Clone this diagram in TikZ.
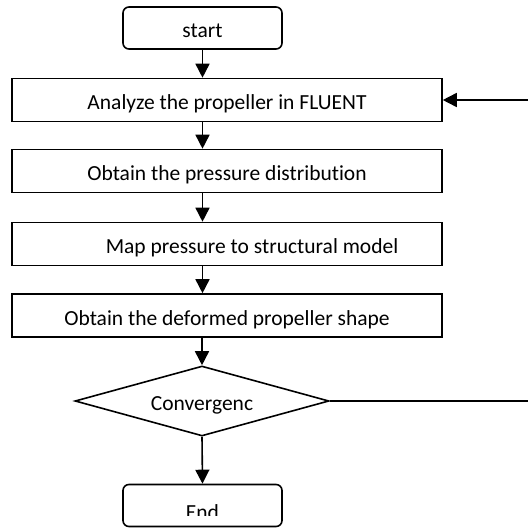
\documentclass[tikz,border=0pt]{standalone}
\usepackage{fontspec}
\setmainfont[Ligatures=NoCommon]{Carlito}
\usetikzlibrary{arrows.meta,positioning,calc,shapes.geometric}
\tikzset{
 block/.style={draw, line width=1.6pt, minimum width=430pt, minimum height=43pt, inner sep=0pt, text height=19pt, text depth=0pt, font=\fontsize{21.5}{25}\selectfont},
 termblock/.style={block, rounded corners=6pt, minimum width=159pt, minimum height=42pt},
 decblock/.style={diamond, draw, line width=1.6pt, aspect=3.6, minimum width=254pt, minimum height=70pt, inner sep=0pt, text height=19pt, text depth=0pt, font=\fontsize{21.5}{25}\selectfont},
 arrow/.style={-{Triangle[width=14pt,length=14pt]}, line width=1.6pt}
}

\begin{document}
\begin{tikzpicture}[x=1pt,y=-1pt]
\useasboundingbox (0,0) rectangle (528,528);
\clip (0,0) rectangle (528,528);
\node[termblock] (start) at (202.5,28) {start};
\node[block] (analyze) at (227,100) {Analyze the propeller in FLUENT};
\node[block] (pressure) at (227,171) {Obtain the pressure distribution};
\node[block] (mapping) at (227,244) {\hspace*{50pt}Map pressure to structural model};
\node[block] (deform) at (227,315.5) {Obtain the deformed propeller shape};
\node[decblock] (conv) at (202,401) {Convergenc};
\node[termblock] (finish) at (202.5,505.5) {};
\begin{scope}
\clip (120,480) rectangle (285,515);
\node[anchor=base, font=\fontsize{21.5}{25}\selectfont] (endtxt) at (202.5,519) {End};
\end{scope}
\coordinate (back) at (560,401);
\draw[arrow] (start) -- (start |- analyze.north);
\draw[arrow] (analyze.south -| start) -- (pressure.north -| start);
\draw[arrow] (pressure.south -| start) -- (mapping.north -| start);
\draw[arrow] (mapping.south -| start) -- (deform.north -| start);
\draw[arrow] (deform.south -| conv) -- (conv.north);
\draw[arrow] (conv.south) -- (finish.north);
\draw[arrow] (conv.east) -- (back) |- (analyze.east);
\end{tikzpicture}
\end{document}
